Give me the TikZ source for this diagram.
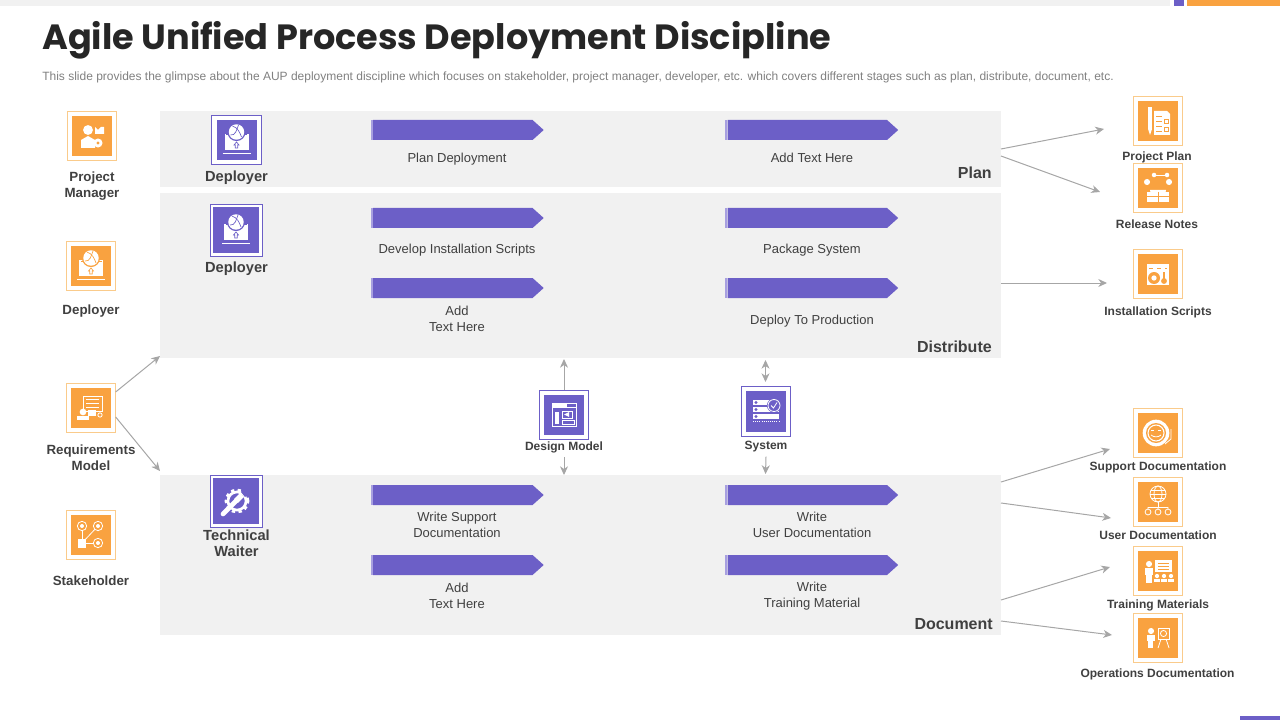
\documentclass[tikz,border=0pt]{standalone}
\usepackage{fontspec}
\setmainfont{Liberation Sans}
\newfontfamily\titlefont{Poppins}
\usetikzlibrary{shapes,arrows.meta}

\definecolor{orgfill}{HTML}{F9A240}
\definecolor{orgline}{HTML}{FACB8B}
\definecolor{purfill}{HTML}{6C5FC7}
\definecolor{purpale}{HTML}{A79FE0}
\definecolor{bandgray}{HTML}{F1F1F1}
\definecolor{txtgray}{HTML}{404040}
\definecolor{arrgray}{HTML}{A6A6A6}

\tikzset{
	band/.style={fill=bandgray, inner sep=0, outer sep=0},
	orgframe/.style={draw=orgline, fill=white, line width=.7pt, minimum size=37pt, inner sep=0, outer sep=0},
	orgbox/.style={fill=orgfill, minimum size=30.5pt, inner sep=0},
	purframe/.style={draw=purfill, fill=white, line width=.7pt, inner sep=0, outer sep=0},
	purbox/.style={fill=purfill, inner sep=0},
	chevbar/.style={shape=signal, signal to=east, signal pointer angle=84, anchor=west, fill=purfill, minimum width=128pt, minimum height=15pt, inner sep=0, outer sep=0},
	barstrip/.style={anchor=east, fill=purpale, minimum width=1.5pt, minimum height=15pt, inner sep=0},
	flow/.style={draw=arrgray, line width=.75pt, -{Stealth[length=6.5pt, width=6pt, inset=2pt]}},
	flowboth/.style={draw=arrgray, line width=.75pt, {Stealth[length=6.5pt, width=6pt, inset=2pt]}-{Stealth[length=6.5pt, width=6pt, inset=2pt]}},
	lab/.style={text=txtgray, font=\fontsize{9}{12}\selectfont\bfseries, align=center, inner sep=0},
	sidelab/.style={text=txtgray, font=\fontsize{10}{12}\selectfont\bfseries, align=center, inner sep=0},
	rolelab/.style={text=txtgray, font=\fontsize{11}{12}\selectfont\bfseries, align=center, inner sep=0},
	bandlab/.style={text=txtgray, font=\fontsize{12}{14}\selectfont\bfseries, anchor=east, inner sep=0},
	barlab/.style={text=txtgray, font=\fontsize{9.75}{12}\selectfont, align=center, inner sep=0},
	ic/.style={draw=white, line width=.6pt},
	icf/.style={fill=white},
	icc/.style={draw=icbg, line width=.5pt}
}

\newcommand{\orgicon}[3]{
	\node[orgframe] (#1) at (#2) {};
	\node[orgbox] (#1box) at (#2) {};
	\begin{scope}[shift={(#2)}]\colorlet{icbg}{orgfill}#3\end{scope}
}
\newcommand{\puricon}[5]{
	\node[purframe, minimum size=#3pt] (#1) at (#2) {};
	\node[purbox, minimum size=#4pt] (#1box) at (#2) {};
	\begin{scope}[shift={(#2)}]\colorlet{icbg}{purfill}#5\end{scope}
}
\newcommand{\barnode}[3]{
	\node[barstrip] (#1s) at (#2,#3) {};
	\node[chevbar] (#1) at (#2,#3) {};
}

% white pictures inside the boxes, 1 unit = 1 px of the slide
\newcommand{\gdeploy}{
	\fill[icf] (-12,-6) rectangle (12,10);
	\fill[icbg] (-10.5,-4.5) rectangle (10.5,-5.5);
	\fill[icbg] (0,-8) circle (6.8pt);
	\fill[icf] (0,-8) circle (5.8pt);
	\draw[icc] (-4,-14) to[out=-20, in=110] (5,-3);
	\draw[icc] (-6,-5) to[out=-10, in=-110] (2,-15);
	\draw[icc] (-2.5,5) -- (0,2) -- (2.5,5) -- (1.3,5) -- (1.3,8) -- (-1.3,8) -- (-1.3,5) -- cycle;
	\draw[ic] (-14,13) -- (14,13);
}
\newcommand{\gmanager}{
	\fill[icf] (-4,-6) circle (3.7pt);
	\fill[icf] (-11,12) -- (-11,4) -- (-4,0) -- (3,4) -- (3,12) -- cycle;
	\fill[icf] (6,7) circle (3.4pt);
	\fill[icbg] (6,7) circle (1.3pt);
	\fill[icf] (3,-2) -- (3,-9) -- (6,-6) -- (9,-9) -- (12,-9) -- (12,-2) -- cycle;
}
\newcommand{\gplan}{
	\fill[icf] (-10,-14) rectangle (-6,8);
	\fill[icf] (-10,8) -- (-6,8) -- (-8,14) -- cycle;
	\fill[icf] (-4,-10) -- (9,-10) -- (12,-7) -- (12,14) -- (-4,14) -- cycle;
	\foreach \ly in {-5,0,5,10} \draw[icc] (-2,\ly) -- (4,\ly);
	\draw[icc] (6,-2) rectangle (10,2);
	\draw[icc] (6,6) rectangle (10,10);
}
\newcommand{\grelease}{
	\draw[ic] (-4,-13) -- (9,-13);
	\fill[icf] (-4,-13) circle (1.7pt);
	\fill[icf] (9,-13) circle (1.7pt);
	\fill[icf] (-11,-6) circle (2.3pt);
	\fill[icf] (11,-6) circle (2.3pt);
	\fill[icf] (-8,2) arc (180:0:8) -- cycle;
	\fill[icf] (-11,4) rectangle (11,14);
	\draw[icc] (-11,8) -- (11,8);
	\draw[icc] (0,4) -- (0,14);
}
\newcommand{\ginstall}{
	\fill[icf] (-11,-10) rectangle (11,11);
	\draw[icc, dashed] (-9,-6) -- (9,-6);
	\fill[icbg] (-4,4) circle (4.5pt);
	\fill[icf] (-4,4) circle (2pt);
	\draw[icbg, line width=1.4pt] (6,-2) -- (6,6);
	\fill[icbg] (6,7) circle (2.2pt);
}
\newcommand{\gsupport}{
	\fill[icf] (-2,0) circle (10pt);
	\fill[icbg] (-2,0) circle (7.5pt);
	\draw[ic, line width=.8pt] (-2,0) circle (6pt);
	\draw[ic] (-7,2) to[bend right=40] (3,2);
	\draw[ic] (-7,-3) -- (-4,-3);
	\draw[ic] (0,-3) -- (3,-3);
	\draw[ic] (13,-4) -- (13,6) -- (7,11);
}
\newcommand{\guser}{
	\draw[ic] (0,-8) circle (6pt);
	\draw[ic] (0,-8) ellipse (3pt and 6pt);
	\draw[ic] (-8,-8) -- (8,-8);
	\draw[ic] (-7,-12) -- (7,-12);
	\draw[ic] (-7,-4) -- (7,-4);
	\draw[ic] (0,0) -- (0,5);
	\draw[ic] (-10,5) -- (10,5);
	\foreach \lx in {-10,0,10} \draw[ic] (\lx,5) -- (\lx,7) (\lx,10) circle (2.2pt);
}
\newcommand{\gtraining}{
	\fill[icf] (-9,-7) circle (2.3pt);
	\fill[icf] (-13,-3) rectangle (-5,4);
	\fill[icf] (-12,4) rectangle (-6,12);
	\fill[icf] (-3,-11) rectangle (14,1);
	\foreach \ly in {-8,-5,-2} \draw[icc] (0,\ly) -- (11,\ly);
	\foreach \lx in {-1,6,13} {\fill[icf] (\lx,5) circle (1.6pt); \fill[icf] (\lx-3,11) rectangle (\lx+3,7.5);}
}
\newcommand{\gops}{
	\fill[icf] (-7,-7) circle (2.3pt);
	\fill[icf] (-11,-3) rectangle (-3,3);
	\fill[icf] (-10,3) rectangle (-5,10);
	\draw[ic] (0,-10) rectangle (11,1);
	\draw[ic] (5.5,-4.5) circle (2.3pt);
	\draw[ic] (3,1) -- (0,10);
	\draw[ic] (8,1) -- (11,10);
}
\newcommand{\grequire}{
	\draw[ic] (-8,-12) rectangle (11,3);
	\foreach \ly in {-9,-5,-1} \draw[ic] (-5,\ly) -- (8,\ly);
	\fill[icf] (-8,4) circle (2.5pt);
	\fill[icf] (-14,12) -- (-14,8) -- (-2,8) -- (-2,12) -- cycle;
	\fill[icf] (-3,2) rectangle (5,8);
	\draw[ic] (9,7) circle (1.6pt);
}
\newcommand{\gstake}{
	\draw[ic] (-9,-9) -- (-9,8) -- (7,8);
	\draw[ic] (-9,8) -- (7,-9);
	\fill[icf] (-13,4) rectangle (-5,13);
	\foreach \la/\lb in {-9/-9,7/-9,7/8} {\fill[orgfill] (\la,\lb) circle (3.5pt); \draw[ic] (\la,\lb) circle (3.5pt); \fill[icf] (\la,\lb) circle (1.5pt);}
}
\newcommand{\gdesign}{
	\draw[ic] (-12,-12) rectangle (12,11);
	\draw[ic] (-12,-8) -- (12,-8);
	\fill[icf] (-12,-12) rectangle (3,-8);
	\fill[icf] (-9,-3) rectangle (-5,9);
	\draw[ic] (-2,-4) rectangle (8,3);
	\fill[icf] (0,-0.5) -- (5,-3) -- (5,2) -- cycle;
	\draw[ic] (-2,5) rectangle (10,9);
}
\newcommand{\gsystem}{
	\foreach \ly in {-9,-2,5} {\fill[icf] (-13,\ly-2.5) rectangle (13,\ly+2.5); \fill[icbg] (-10,\ly) circle (1.3pt);}
	\fill[icbg] (8,-6) circle (5.3pt);
	\draw[ic] (8,-6) circle (4.5pt);
	\draw[ic] (5,-6) -- (7.5,-3.5) -- (11,-9);
	\draw[ic, densely dotted] (-13,10) -- (13,10);
}
\newcommand{\gwrench}{
	\draw[white, line width=2pt, dash pattern=on 2.5pt off 2.5pt] (1,0) circle (8.3pt);
	\draw[white, line width=2pt] (1,0) circle (6.8pt);
	\draw[icbg, line width=1pt] (-13,13) -- (2,-2);
	\draw[white, line width=3.5pt, line cap=round] (-13,13) -- (2,-2);
	\draw[white, line width=4pt] (0,0) -- (6,-6);
	\fill[icbg] (5,-9) -- (9,-4) -- (13,-8) -- (9,-13) -- cycle;
}

\begin{document}
\begin{tikzpicture}[x=.75pt, y=-.75pt]
	\useasboundingbox (0,0) rectangle (1280,720);
	% top and bottom strips
	\fill[bandgray] (0,0) rectangle (1170,6);
	\fill[purfill] (1174,0) rectangle (1184,6);
	\fill[orgfill] (1187,0) rectangle (1280,6);
	\fill[purfill] (1240,716) rectangle (1280,720);

	\node[anchor=west, inner sep=0, text=black!85, font=\fontsize{26.3}{30}\selectfont\titlefont\bfseries] (title) at (42,40) {Agile Unified Process Deployment Discipline};
	\node[anchor=west, inner sep=0, text=black!50, font=\fontsize{9}{10}\selectfont] (subtitle) at (42,77.5) {This slide provides the glimpse about the AUP deployment discipline which focuses on stakeholder, project manager, developer, etc. which covers different stages such as plan, distribute, document, etc.};

	% bands
	\node[band, minimum width=630.75pt, minimum height=57pt] (plan) at (580.5,149) {};
	\node[band, minimum width=630.75pt, minimum height=123.75pt] (distribute) at (580.5,275.5) {};
	\node[band, minimum width=630.75pt, minimum height=120pt] (document) at (580.5,555) {};
	\node[bandlab] (planlab) at (992,173) {Plan};
	\node[bandlab] (distributelab) at (992,347) {Distribute};
	\node[bandlab] (documentlab) at (993,624) {Document};

	% bars
	\barnode{planA}{373}{130}
	\barnode{planB}{727.5}{130}
	\barnode{distA}{373}{218}
	\barnode{distB}{727.5}{218}
	\barnode{distC}{373}{288}
	\barnode{distD}{727.5}{288}
	\barnode{docA}{373}{495}
	\barnode{docB}{727.5}{495}
	\barnode{docC}{373}{565}
	\barnode{docD}{727.5}{565}
	\node[barlab] (planAlab) at (457,159) {Plan Deployment};
	\node[barlab] (planBlab) at (812,158) {Add Text Here};
	\node[barlab] (distAlab) at (457,250) {Develop Installation Scripts};
	\node[barlab] (distBlab) at (812,250) {Package System};
	\node[barlab] (distClab) at (457,319) {Add\\Text Here};
	\node[barlab] (distDlab) at (812,321) {Deploy To Production};
	\node[barlab] (docAlab) at (457,525) {Write Support\\Documentation};
	\node[barlab] (docBlab) at (812,525) {Write\\User Documentation};
	\node[barlab] (docClab) at (457,596) {Add\\Text Here};
	\node[barlab] (docDlab) at (812,596) {Write\\Training Material};

	% left column
	\orgicon{manager}{92,136}{\gmanager}
	\orgicon{deployer}{91,266}{\gdeploy}
	\orgicon{require}{91,408}{\grequire}
	\orgicon{stake}{91,535}{\gstake}
	\node[sidelab] (managerlab) at (92,186) {Project\\Manager};
	\node[sidelab] (deployerlab) at (91,311) {Deployer};
	\node[sidelab] (requirelab) at (91,458) {Requirements\\Model};
	\node[sidelab] (stakelab) at (91,581) {Stakeholder};

	% roles in the bands
	\puricon{roleplan}{236.5,140}{37}{30}{\gdeploy}
	\puricon{roledist}{236,230}{39}{34.5}{\gdeploy}
	\puricon{roledoc}{236,501}{39}{34.5}{\gwrench}
	\node[rolelab] (roleplanlab) at (236.5,178) {Deployer};
	\node[rolelab] (roledistlab) at (236.5,269) {Deployer};
	\node[rolelab] (roledoclab) at (236.5,543) {Technical\\Waiter};

	% middle
	\puricon{design}{564,415}{37}{30.5}{\gdesign}
	\puricon{system}{766,411.5}{37}{30.5}{\gsystem}
	\node[lab] (designlab) at (564,447) {Design Model};
	\node[lab] (systemlab) at (766,447) {System};

	% right column
	\orgicon{pplan}{1158,121}{\gplan}
	\orgicon{release}{1158,188}{\grelease}
	\orgicon{install}{1158,274}{\ginstall}
	\orgicon{support}{1158,433}{\gsupport}
	\orgicon{user}{1158,502}{\guser}
	\orgicon{training}{1158,571}{\gtraining}
	\orgicon{ops}{1158,638}{\gops}
	\node[lab] (pplanlab) at (1157,157) {Project Plan};
	\node[lab] (releaselab) at (1157,224) {Release Notes};
	\node[lab] (installlab) at (1158,312.5) {Installation Scripts};
	\node[lab] (supportlab) at (1158,467.5) {Support Documentation};
	\node[lab] (userlab) at (1158,535.5) {User Documentation};
	\node[lab] (traininglab) at (1158,605) {Training Materials};
	\node[lab] (opslab) at (1157.5,674.5) {Operations Documentation};

	% free ends of the connectors
	\coordinate (planout) at (1001,156);
	\coordinate (distout) at (1001,283);
	\coordinate (docoutA) at (1001,482);
	\coordinate (docoutB) at (1001,503);
	\coordinate (docoutC) at (1001,600);
	\coordinate (docoutD) at (1001,621);
	\coordinate (pplanin) at (1104,129);
	\coordinate (releasein) at (1100,192);
	\coordinate (installin) at (1107,283);
	\coordinate (supportin) at (1110,449);
	\coordinate (userin) at (1111,518);
	\coordinate (trainingin) at (1110,567);
	\coordinate (opsin) at (1112,635);
	\coordinate (requpin) at (160,356);
	\coordinate (reqdownin) at (160,471);
	\coordinate (designup) at (564,359);
	\coordinate (designdown) at (564,475);
	\coordinate (systemup) at (765.5,360);
	\coordinate (systemupfrom) at (765.5,382);
	\coordinate (systemdown) at (765.5,474);

	\draw[flow] (plan.east) -- (pplanin);
	\draw[flow] (planout) -- (releasein);
	\draw[flow] (distout) -- (installin);
	\draw[flow] (docoutA) -- (supportin);
	\draw[flow] (docoutB) -- (userin);
	\draw[flow] (docoutC) -- (trainingin);
	\draw[flow] (docoutD) -- (opsin);
	\draw[flow] (require.33) -- (requpin);
	\draw[flow] (require.-20) -- (reqdownin);
	\draw[flow] (design.north) -- (designup);
	\draw[flow] ([yshift=-3pt]designlab.south) -- (designdown);
	\draw[flowboth] (systemupfrom) -- (systemup);
	\draw[flow] ([yshift=-3pt]systemlab.south) -- (systemdown);
\end{tikzpicture}
\end{document}
